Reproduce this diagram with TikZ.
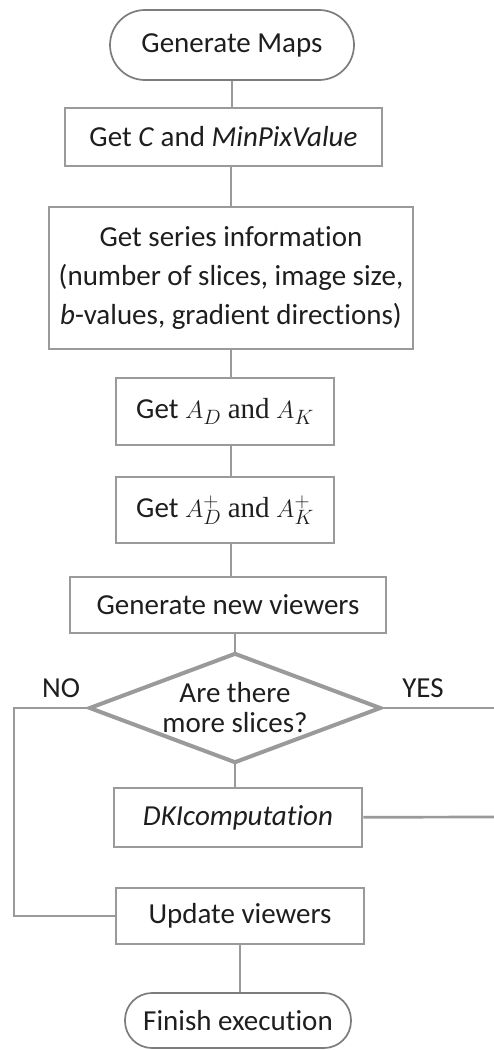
\documentclass[tikz,border=0pt]{standalone}
\usepackage{fontspec}
\setmainfont{Carlito}[Ligatures=NoCommon]
\newfontfamily\mathserif{Liberation Serif}
\usepackage{tikz}
\definecolor{edgegray}{HTML}{9A9A9A}
\definecolor{termgray}{HTML}{7C7C7C}
\definecolor{inkgray}{HTML}{1E1E1E}
\tikzstyle{proc} = [draw=edgegray, line width=2.7pt, rectangle, inner sep=0pt, text=inkgray, font=\fontsize{29}{39}\selectfont]
\tikzstyle{term} = [draw=termgray, line width=1.7pt, rectangle, inner sep=0pt, text=inkgray, font=\fontsize{29}{39}\selectfont]
\tikzstyle{decision} = [draw=edgegray, line width=4pt, line join=miter]
\tikzstyle{link} = [draw=edgegray, line width=2.7pt]
\tikzstyle{answer} = [inner sep=0pt, text=inkgray, font=\fontsize{29}{35}\selectfont]

\begin{document}
\begin{tikzpicture}[x=1pt,y=-1pt]
	\useasboundingbox (0,0) rectangle (494,1050);
	\node[term, minimum width=244, minimum height=70, rounded corners=35](start) at (232,45){Generate Maps};
	\node[proc, minimum width=317, minimum height=58](getc) at (223.5,137){Get \textit{C} and \textit{MinPixValue}};
	\node[proc, minimum width=364, minimum height=142, align=center](series) at (231,278){Get series information\\(number of slices, image size,\\\textit{b}-values, gradient directions)};
	\node[proc, minimum width=218, minimum height=67](getad) at (225,411.5){Get $A_D$ {\mathserif and} $A_K$};
	\node[proc, minimum width=218, minimum height=66](getpinv) at (225,510){Get $A^{+}_{D}$ {\mathserif and} $A^{+}_{K}$};
	\node[proc, minimum width=316, minimum height=56](viewers) at (228,605){Generate new viewers};
	\node[answer, minimum width=290, minimum height=108, align=center, font=\fontsize{29}{30}\selectfont](slices) at (235,708){Are there\\more slices?};
	\node[proc, minimum width=248, minimum height=59](dki) at (238,817.5){\textit{DKIcomputation}};
	\node[proc, minimum width=248, minimum height=56](update) at (240,916){Update viewers};
	\node[term, minimum width=226, minimum height=55, rounded corners=27](finish) at (238,1020.5){Finish execution};
	\node[answer](no) at (61,688){NO};
	\node[answer](yes) at (423,688){YES};
	\coordinate(noleft) at (14,708);
	\coordinate(yesend) at (494,708);
	\coordinate(dkiend) at (494,817);
	
	\draw[decision](slices.north) -- (slices.east) -- (slices.south) -- (slices.west) -- cycle;
	\draw[link](start) -- (start |- getc.north);
	\draw[link](series |- getc.south) -- (series);
	\draw[link](series) -- (series |- getad.north);
	\draw[link](series |- getad.south) -- (series |- getpinv.north);
	\draw[link](series |- getpinv.south) -- (series |- viewers.north);
	\draw[link](slices.north |- viewers.south) -- (slices.north);
	\draw[link](slices.south) -- (slices.south |- dki.north);
	\draw[link](slices.west) -| (noleft |- update) -- (update);
	\draw[link](slices.east) -- (yesend);
	\draw[link](dki) -- (dkiend);
	\draw[link](update) -- (update |- finish.north);
\end{tikzpicture}
\end{document}
